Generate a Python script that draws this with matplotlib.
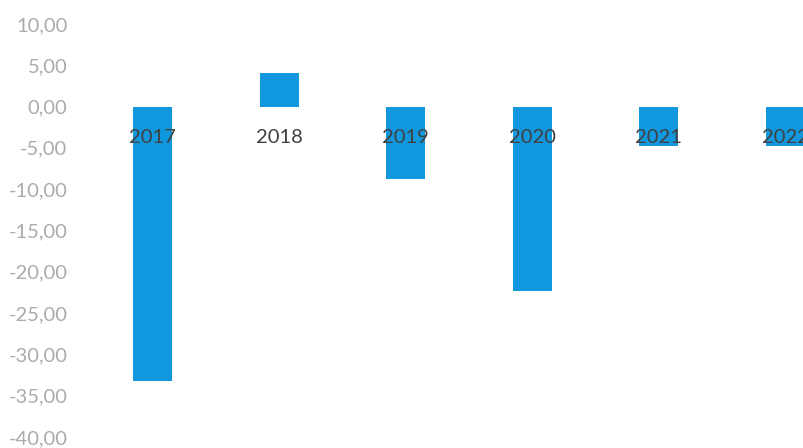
import matplotlib.pyplot as plt
import numpy as np

plt.rcParams["font.family"] = ["Lato", "DejaVu Sans"]

# ##### Data #####

years = ["2017", "2018", "2019", "2020", "2021", "2022"]
values = [-33.2, 4.1, -8.8, -22.3, -4.8, -4.8]
yticks = [10, 5, 0, -5, -10, -15, -20, -25, -30, -35, -40]

bar_color = "#1197dd"
tick_grey = "#ababab"
label_grey = "#404040"

# ##### Make plot #####

fig = plt.figure(figsize=(8.04, 4.48), dpi=100)
ax = fig.add_axes([0.1113, 0.0246, 0.944, 0.9219])

x = np.arange(len(years))
ax.bar(x, values, width=0.31, color=bar_color, zorder=1)

ax.set_xlim(-0.5, len(years) - 0.5)
ax.set_ylim(-40, 10)

ax.set_yticks(yticks)
ax.set_yticklabels([("%.2f" % v).replace(".", ",") for v in yticks])
ax.tick_params(axis="y", length=0, pad=16, labelsize=14.5, labelcolor=tick_grey)

# category labels sit just under the zero line, over the bars
ax.spines["bottom"].set_position(("data", 0))
ax.set_xticks(x)
ax.set_xticklabels(years)
ax.tick_params(axis="x", length=0, pad=16, labelsize=14.5, labelcolor=label_grey)
ax.set_axisbelow(False)

for s in ax.spines.values():
    s.set_visible(False)

plt.savefig("out.png", dpi=100)
plt.close()
